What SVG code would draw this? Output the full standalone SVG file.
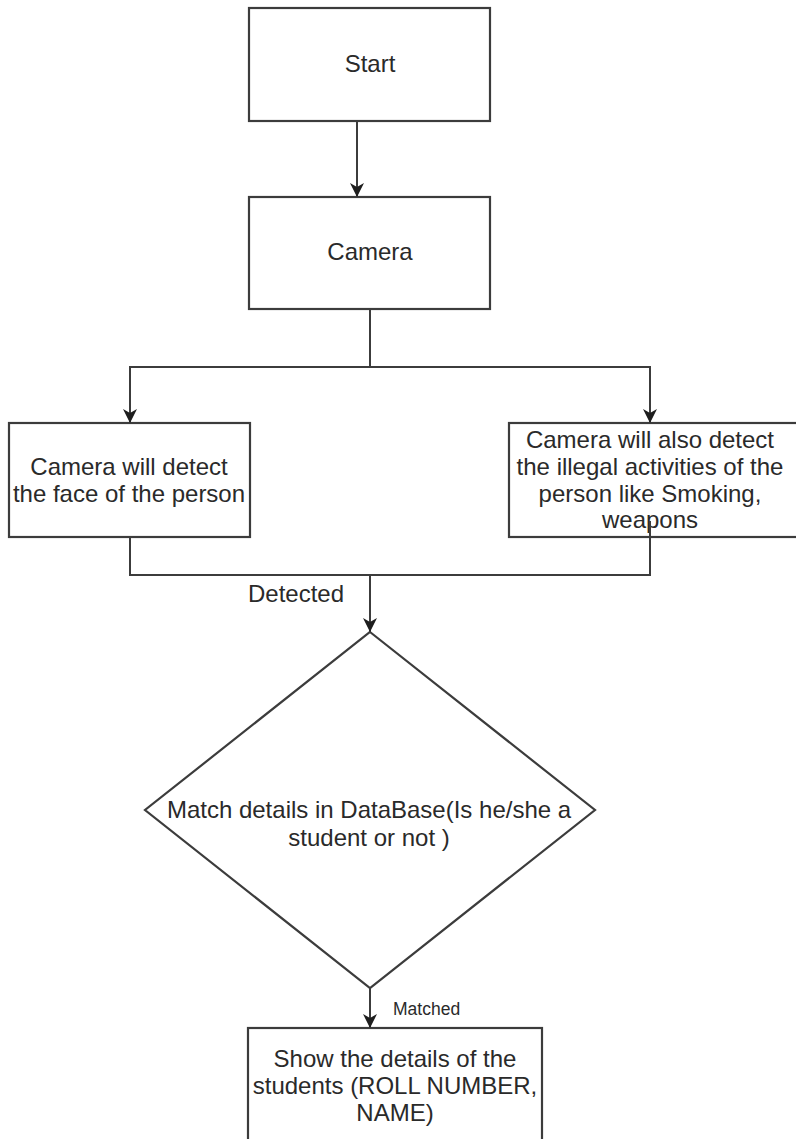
<svg xmlns="http://www.w3.org/2000/svg" width="796" height="1139" viewBox="0 0 796 1139">
  <defs>
    <style>
      .box { fill: #ffffff; stroke: #3c3c3c; stroke-width: 2.2; }
      .edge { fill: none; stroke: #3c3c3c; stroke-width: 2; }
      .label { font-family: "Liberation Sans", Arial, sans-serif; font-size: 24px; fill: #2a2a2a; text-anchor: middle; }
      .small { font-family: "Liberation Sans", Arial, sans-serif; font-size: 17.5px; fill: #2a2a2a; }
    </style>
    <marker id="arrow" markerUnits="userSpaceOnUse" markerWidth="16" markerHeight="16" viewBox="0 0 16 16" refX="15" refY="8" orient="auto">
      <path d="M1,1 L15,8 L1,15 L5,8 Z" fill="#1e1e1e"/>
    </marker>
  </defs>

  <rect width="796" height="1139" fill="#ffffff"/>

  <!-- start -->
  <g id="start">
    <rect class="box" x="249" y="8" width="241" height="113"/>
    <text class="label" x="370" y="72">Start</text>
  </g>

  <!-- camera -->
  <g id="camera">
    <rect class="box" x="249" y="197" width="241" height="112"/>
    <text class="label" x="370" y="260">Camera</text>
  </g>

  <!-- face detection -->
  <g id="detect-face">
    <rect class="box" x="9" y="423" width="241" height="114"/>
    <text class="label" x="129" y="475">Camera will detect</text>
    <text class="label" x="129" y="502">the face of the person</text>
  </g>

  <!-- illegal activity detection -->
  <g id="detect-activity">
    <rect class="box" x="509" y="423" width="292" height="114"/>
    <text class="label" x="650" y="448">Camera will also detect</text>
    <text class="label" x="650" y="475">the illegal activities of the</text>
    <text class="label" x="650" y="502">person like Smoking,</text>
    <text class="label" x="650" y="528">weapons</text>
  </g>

  <!-- database match decision -->
  <g id="match-decision">
    <polygon class="box" points="370,632 595,810 370,988 145,810"/>
    <text class="label" x="369" y="818">Match details in DataBase(Is he/she a</text>
    <text class="label" x="369" y="846">student or not )</text>
  </g>

  <!-- student details -->
  <g id="show-details">
    <rect class="box" x="248" y="1028" width="294" height="130"/>
    <text class="label" x="395" y="1067">Show the details of the</text>
    <text class="label" x="395" y="1094">students (ROLL NUMBER,</text>
    <text class="label" x="395" y="1121">NAME)</text>
  </g>

  <!-- connectors (drawn last so the right-hand edge shows over its box) -->
  <g id="connectors">
    <path class="edge" d="M357,121 V197" marker-end="url(#arrow)"/>
    <path class="edge" d="M370,309 V367 H130 V423" marker-end="url(#arrow)"/>
    <path class="edge" d="M370,367 H650 V423" marker-end="url(#arrow)"/>
    <path class="edge" d="M130,537 V575 H370 V632" marker-end="url(#arrow)"/>
    <path class="edge" d="M650,521 V575 H370"/>
    <text class="label" x="296" y="602">Detected</text>
    <path class="edge" d="M370,988 V1028" marker-end="url(#arrow)"/>
    <text class="small" x="393" y="1015">Matched</text>
  </g>
</svg>
